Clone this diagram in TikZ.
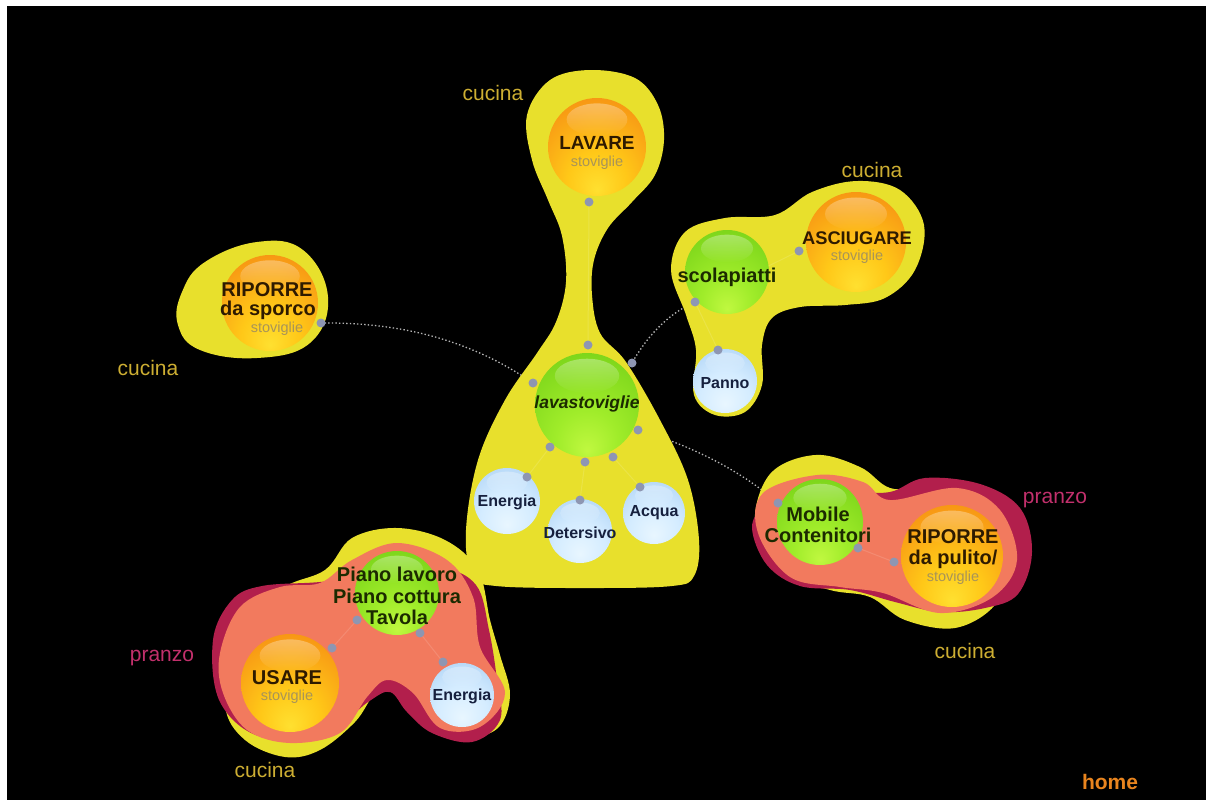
\documentclass[tikz,border=0pt]{standalone}
\usepackage{fontspec}
\setmainfont{Liberation Sans}
\usetikzlibrary{fadings}

\definecolor{blobY}{HTML}{E8E02C}
\definecolor{blobS}{HTML}{F27A5E}
\definecolor{blobC}{HTML}{B21F4C}
\definecolor{cucinaC}{HTML}{CDAE32}
\definecolor{pranzoC}{HTML}{C2306C}
\definecolor{homeC}{HTML}{E8841E}
\definecolor{dotC}{HTML}{8E96B2}
\definecolor{connC}{HTML}{B4B4B4}
\definecolor{o0}{HTML}{FFE030}
\definecolor{o1}{HTML}{FFC818}
\definecolor{o2}{HTML}{F89A14}
\definecolor{o3}{HTML}{EE7410}
\definecolor{o4}{HTML}{E0561A}
\definecolor{g0}{HTML}{C0F840}
\definecolor{g1}{HTML}{A0EC2A}
\definecolor{g2}{HTML}{80D81C}
\definecolor{g3}{HTML}{62C014}
\definecolor{g4}{HTML}{4AA010}
\definecolor{b0}{HTML}{E8F6FF}
\definecolor{b1}{HTML}{D4ECFF}
\definecolor{b2}{HTML}{B0D4F6}
\definecolor{b3}{HTML}{92BAE8}
\definecolor{b4}{HTML}{749ED6}
\definecolor{txtO}{HTML}{2E1A00}
\definecolor{txtG}{HTML}{1C2A00}
\definecolor{txtB}{HTML}{16203E}
\definecolor{stovC}{HTML}{A89458}

\pgfdeclareradialshading{orangeball}{\pgfpoint{0bp}{-22bp}}{color(0bp)=(o0); color(15bp)=(o1); color(35bp)=(o2); color(55bp)=(o3); color(75bp)=(o4)}
\pgfdeclareradialshading{greenball}{\pgfpoint{0bp}{-22bp}}{color(0bp)=(g0); color(15bp)=(g1); color(35bp)=(g2); color(55bp)=(g3); color(75bp)=(g4)}
\pgfdeclareradialshading{blueball}{\pgfpoint{0bp}{-18bp}}{color(0bp)=(b0); color(20bp)=(b1); color(40bp)=(b2); color(55bp)=(b3); color(75bp)=(b4)}

\newcommand\mkball[4]{%
  \node[circle, inner sep=0pt, minimum size={2*#3pt}, shade, shading=#4, draw=none] (#1) at (#2) {};
  \fill[white, path fading=south, fill opacity=.32] ([yshift={0.56*#3pt}]#1.center) ellipse [x radius={0.62*#3pt}, y radius={0.33*#3pt}];
}

\tikzset{
  conn/.style={connC, line width=1.3pt, dash pattern=on 1.4pt off 2.2pt},
  inner/.style={white, opacity=.13, line width=1pt},
  dotn/.style={circle, fill=dotC, inner sep=0pt, minimum size=9pt},
  lblO/.style={text=txtO, font=\bfseries\fontsize{20}{21.5}\selectfont, align=center, inner sep=0pt},
  lblG/.style={text=txtG, font=\bfseries\fontsize{20}{21.5}\selectfont, align=center, inner sep=0pt},
  lblB/.style={text=txtB, font=\bfseries\fontsize{16}{18}\selectfont, inner sep=0pt},
  stov/.style={text=stovC, font=\fontsize{14.5}{16}\selectfont, inner sep=0pt},
  cuc/.style={text=cucinaC, font=\fontsize{21}{22}\selectfont, inner sep=0pt},
  pra/.style={text=pranzoC, font=\fontsize{21}{22}\selectfont, inner sep=0pt},
}

\begin{document}
\begin{tikzpicture}[x=1pt,y=-1pt]
\fill[white] (0,0) rectangle (1206,800);
\fill[black] (7,6) rectangle (1206,800);
\useasboundingbox (0,0) rectangle (1206,800);

% dot positions
\coordinate (dL) at (589,202);
\coordinate (v1) at (588,345);
\coordinate (v2) at (632,363);
\coordinate (v3) at (533,383);
\coordinate (v4) at (638,430);
\coordinate (v5) at (550,447);
\coordinate (v6) at (585,462);
\coordinate (v7) at (613,457);
\coordinate (e1) at (527,477);
\coordinate (de) at (580,500);
\coordinate (ac) at (640,487);
\coordinate (sp) at (321,323);
\coordinate (sc) at (695,302);
\coordinate (as) at (799,251);
\coordinate (pa) at (718,350);
\coordinate (mo1) at (778,503);
\coordinate (mo2) at (858,548);
\coordinate (rp) at (894,562);
\coordinate (pi1) at (357,620);
\coordinate (us) at (332,648);
\coordinate (pi2) at (420,633);
\coordinate (en2) at (443,662);

% dotted connectors (under the blobs)
\draw[conn] (sp) .. controls (420,322) and (485,350) .. (v3);
\draw[conn] (sc) .. controls (665,315) and (645,340) .. (v2);
\draw[conn] (v4) .. controls (690,445) and (740,470) .. (mo1);

% central blob
\fill[blobY] plot[smooth cycle, tension=0.6] coordinates {
 (590,70) (635,78) (658,105) (664,140) (655,175) (632,202) (608,228) (594,260)
 (592,295) (600,333) (626,362) (660,420) (688,480) (699,540) (694,576) (672,586)
 (590,588) (496,586) (472,575) (466,530) (478,460) (505,400) (537,353) (556,322)
 (566,282) (562,236) (548,200) (532,160) (527,115) (550,80)};

% riporre sporco blob
\fill[blobY] plot[smooth cycle, tension=0.7] coordinates {
 (257,242) (303,250) (328,297) (310,343) (257,358) (200,350) (178,325) (182,292) (205,262)};

% scolapiatti blob
\fill[blobY] plot[smooth cycle, tension=0.6] coordinates {
 (857,181) (900,190) (924,225) (915,270) (885,298) (845,305) (800,307) (772,318)
 (762,345) (762,385) (745,412) (715,415) (694,395) (696,350) (686,315) (671,270)
 (685,232) (725,218) (775,215) (812,192)};

% mobile blob: yellow, crimson, salmon
\fill[blobY] plot[smooth cycle, tension=0.6] coordinates {
 (815,455) (860,467) (890,488) (930,490) (985,515) (1008,565) (995,605) (955,628)
 (905,620) (870,597) (830,590) (780,572) (755,525) (770,474)};
\fill[blobC] plot[smooth cycle, tension=0.6] coordinates {
 (792,495) (850,492) (890,492) (925,478) (980,484) (1020,508) (1032,552) (1018,594)
 (985,608) (940,612) (895,602) (850,590) (800,586) (767,565) (752,528) (765,505)};
\fill[blobS] plot[smooth cycle, tension=0.6] coordinates {
 (817,475) (863,482) (890,500) (957,488) (1000,510) (1017,560) (993,597) (940,613)
 (883,593) (840,587) (790,577) (758,533) (763,493)};

% bottom-left blob: yellow, crimson, salmon
\fill[blobY] plot[smooth cycle, tension=0.6] coordinates {
 (397,528) (445,540) (478,570) (490,620) (500,655) (510,695) (498,728) (465,738)
 (435,728) (415,705) (395,690) (375,694) (355,722) (320,750) (285,757) (245,740)
 (225,705) (235,640) (280,590) (325,570) (352,538)};
\fill[blobC] plot[smooth cycle, tension=0.6] coordinates {
 (213,640) (232,600) (262,586) (320,582) (380,575) (440,568) (476,585) (489,630)
 (497,680) (500,720) (472,742) (432,733) (407,712) (390,692) (368,702) (330,730)
 (262,737) (220,702)};
\fill[blobS] plot[smooth cycle, tension=0.6] coordinates {
 (220,653) (240,607) (280,587) (320,583) (352,560) (397,543) (447,560) (473,597)
 (480,647) (505,693) (480,727) (440,728) (413,693) (387,680) (367,697) (340,733)
 (290,743) (247,730) (223,693)};

% inner faint links
\draw[inner] (dL) -- (v1);
\draw[inner] (v5) -- (e1);
\draw[inner] (v6) -- (de);
\draw[inner] (v7) -- (ac);
\draw[inner] (mo2) -- (rp);
\draw[inner] (pi1) -- (us);
\draw[inner] (pi2) -- (en2);
\draw[inner] (sc) -- (as);
\draw[inner] (sc) -- (pa);

% balls
\mkball{lavare}{597,147}{49}{orangeball}
\mkball{lavast}{587,405}{52}{greenball}
\mkball{energiaA}{507,501}{33}{blueball}
\mkball{detersivo}{580,531}{32}{blueball}
\mkball{acqua}{654,513}{31}{blueball}
\mkball{scolap}{727,272}{42}{greenball}
\mkball{asciug}{856,242}{50}{orangeball}
\mkball{panno}{725,381}{32}{blueball}
\mkball{sporco}{270,303}{48}{orangeball}
\mkball{mobile}{820,522}{43}{greenball}
\mkball{pulito}{952,556}{51}{orangeball}
\mkball{piano}{397,593}{42}{greenball}
\mkball{usare}{290,683}{49}{orangeball}
\mkball{energiaB}{462,695}{32}{blueball}

% dots
\foreach \d in {dL,v1,v2,v3,v4,v5,v6,v7,e1,de,ac,sp,sc,as,pa,mo1,mo2,rp,pi1,us,pi2,en2}
  \node[dotn] (n\d) at (\d) {};

% labels
\node[lblO, font=\bfseries\fontsize{19}{20}\selectfont] (tLav) at (597,143) {LAVARE};
\node[stov] (sLav) at (597,163) {stoviglie};
\node[lblG, font=\bfseries\itshape\fontsize{17.5}{19}\selectfont] (tLs) at (587,404) {lavastoviglie};
\node[lblB] (tEnA) at (507,502) {Energia};
\node[lblB] (tDet) at (580,533) {Detersivo};
\node[lblB] (tAcq) at (654,513) {Acqua};
\node[lblG] (tSc) at (727,277) {scolapiatti};
\node[lblO, font=\bfseries\fontsize{18.3}{20}\selectfont] (tAs) at (857,238) {ASCIUGARE};
\node[stov] (sAs) at (857,257) {stoviglie};
\node[lblB] (tPa) at (725,383) {Panno};
\node[lblO] (tSp1) at (267,290) {RIPORRE};
\node[lblO] (tSp2) at (268,310) {da sporco};
\node[stov] (sSp) at (277,329) {stoviglie};
\node[lblG] (tMo) at (818,525) {Mobile\\Contenitori};
\node[lblO] (tPu) at (953,549) {RIPORRE\\da pulito/};
\node[stov] (sPu) at (953,578) {stoviglie};
\node[lblG] (tPi) at (397,596) {Piano lavoro\\Piano cottura\\Tavola};
\node[lblO] (tUs) at (287,678) {USARE};
\node[stov] (sUs) at (287,697) {stoviglie};
\node[lblB] (tEnB) at (462,696) {Energia};

\node[cuc] (c1) at (493,93) {cucina};
\node[cuc] (c2) at (872,170) {cucina};
\node[cuc] (c3) at (148,368) {cucina};
\node[cuc] (c4) at (965,651) {cucina};
\node[cuc] (c5) at (265,770) {cucina};
\node[pra] (p1) at (1055,500) {pranzo};
\node[pra] (p2) at (162,658) {pranzo};
\node[text=homeC, font=\bfseries\fontsize{21}{22}\selectfont, inner sep=0pt] (home) at (1110,782) {home};
\end{tikzpicture}
\end{document}
